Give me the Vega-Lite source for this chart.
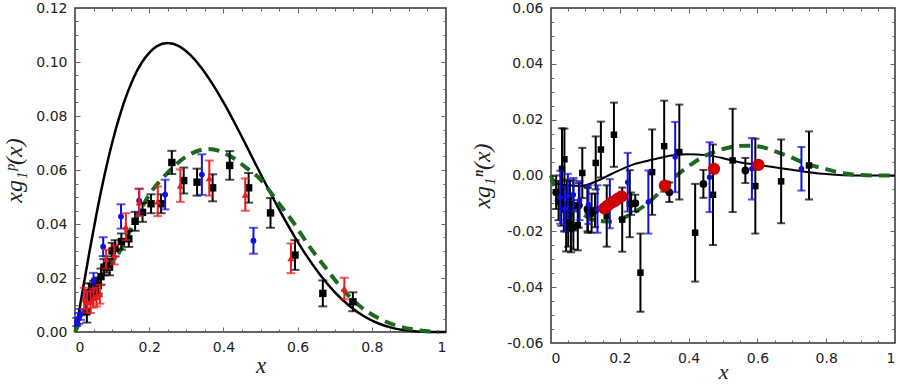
{
  "$schema": "https://vega.github.io/schema/vega-lite/v6.json",
  "padding": {"left": 2, "top": 0, "right": 0, "bottom": 0},
  "spacing": 18,
  "config": {
    "view": {"stroke": "#333", "strokeWidth": 1.5},
    "axis": {"labelFont": "DejaVu Sans", "labelFontSize": 14, "labelColor": "#222", "titleFont": "Liberation Serif", "titleFontStyle": "italic", "titleFontWeight": "normal", "titleFontSize": 24, "titleColor": "#222", "grid": false, "domain": false, "tickColor": "#666", "tickWidth": 1, "minExtent": 0},
    "axisX": {"minExtent": 0},
    "axisY": {"minExtent": 0}
  },
  "datasets": {
    "pA": [{"x":0,"y":0},{"x":0.01,"y":0.0069},{"x":0.02,"y":0.0148},{"x":0.04,"y":0.0305},{"x":0.06,"y":0.0452},{"x":0.08,"y":0.0584},{"x":0.1,"y":0.07},{"x":0.12,"y":0.0799},{"x":0.14,"y":0.0881},{"x":0.16,"y":0.0947},{"x":0.18,"y":0.0998},{"x":0.2,"y":0.1034},{"x":0.22,"y":0.1058},{"x":0.25,"y":0.107},{"x":0.28,"y":0.1059},{"x":0.31,"y":0.1027},{"x":0.34,"y":0.098},{"x":0.37,"y":0.092},{"x":0.4,"y":0.0851},{"x":0.43,"y":0.0775},{"x":0.46,"y":0.0695},{"x":0.5,"y":0.0586},{"x":0.54,"y":0.048},{"x":0.58,"y":0.0381},{"x":0.62,"y":0.0291},{"x":0.66,"y":0.0213},{"x":0.7,"y":0.0148},{"x":0.74,"y":0.00965},{"x":0.78,"y":0.00576},{"x":0.82,"y":0.00305},{"x":0.86,"y":0.00135},{"x":0.9,"y":0.00045},{"x":0.95,"y":0.00004},{"x":1,"y":0}],
    "pB": [{"x":0,"y":0},{"x":0.03,"y":0.009},{"x":0.065,"y":0.0198},{"x":0.12,"y":0.0297},{"x":0.165,"y":0.0421},{"x":0.2,"y":0.0508},{"x":0.245,"y":0.0583},{"x":0.3,"y":0.065},{"x":0.36,"y":0.0678},{"x":0.42,"y":0.065},{"x":0.46,"y":0.061},{"x":0.5,"y":0.0565},{"x":0.515,"y":0.054},{"x":0.55,"y":0.0475},{"x":0.587,"y":0.0409},{"x":0.63,"y":0.032},{"x":0.677,"y":0.0235},{"x":0.72,"y":0.016},{"x":0.766,"y":0.0098},{"x":0.82,"y":0.005},{"x":0.874,"y":0.0021},{"x":0.93,"y":0.0006},{"x":0.98,"y":0}],
    "pSq": [{"x":0.032,"y":0.0075,"lo":0.0035,"hi":0.0115},{"x":0.038,"y":0.0145,"lo":0.011,"hi":0.018},{"x":0.044,"y":0.015,"lo":0.012,"hi":0.018},{"x":0.05,"y":0.016,"lo":0.013,"hi":0.019},{"x":0.056,"y":0.0168,"lo":0.0138,"hi":0.0198},{"x":0.063,"y":0.0172,"lo":0.0142,"hi":0.0202},{"x":0.07,"y":0.0205,"lo":0.0175,"hi":0.0235},{"x":0.078,"y":0.024,"lo":0.021,"hi":0.027},{"x":0.085,"y":0.025,"lo":0.022,"hi":0.028},{"x":0.093,"y":0.024,"lo":0.021,"hi":0.027},{"x":0.1,"y":0.03,"lo":0.027,"hi":0.033},{"x":0.108,"y":0.031,"lo":0.028,"hi":0.034},{"x":0.125,"y":0.0335,"lo":0.0305,"hi":0.0365},{"x":0.145,"y":0.0345,"lo":0.0315,"hi":0.0375},{"x":0.162,"y":0.041,"lo":0.0375,"hi":0.0445},{"x":0.182,"y":0.0443,"lo":0.0408,"hi":0.0478},{"x":0.205,"y":0.0475,"lo":0.044,"hi":0.051},{"x":0.232,"y":0.0475,"lo":0.044,"hi":0.051},{"x":0.261,"y":0.0628,"lo":0.0585,"hi":0.0671},{"x":0.293,"y":0.0561,"lo":0.0513,"hi":0.0609},{"x":0.329,"y":0.0555,"lo":0.0505,"hi":0.0605},{"x":0.371,"y":0.0534,"lo":0.0484,"hi":0.0584},{"x":0.417,"y":0.0617,"lo":0.0564,"hi":0.067},{"x":0.468,"y":0.0534,"lo":0.0479,"hi":0.0589},{"x":0.527,"y":0.0441,"lo":0.0386,"hi":0.0496},{"x":0.593,"y":0.0285,"lo":0.023,"hi":0.034},{"x":0.668,"y":0.0143,"lo":0.0095,"hi":0.0191},{"x":0.749,"y":0.0112,"lo":0.0077,"hi":0.0147}],
    "pCi": [{"x":0.005,"y":0.0037,"lo":0.0022,"hi":0.0052},{"x":0.01,"y":0.005,"lo":0.003,"hi":0.007},{"x":0.015,"y":0.0065,"lo":0.0045,"hi":0.0085},{"x":0.03,"y":0.011,"lo":0.008,"hi":0.014},{"x":0.05,"y":0.0189,"lo":0.0159,"hi":0.0219},{"x":0.076,"y":0.0316,"lo":0.0281,"hi":0.0351},{"x":0.124,"y":0.0428,"lo":0.0383,"hi":0.0473},{"x":0.173,"y":0.0486,"lo":0.0441,"hi":0.0531},{"x":0.243,"y":0.0509,"lo":0.0454,"hi":0.0564},{"x":0.342,"y":0.0583,"lo":0.0508,"hi":0.0658},{"x":0.481,"y":0.0338,"lo":0.029,"hi":0.0386}],
    "pTr": [{"x":0.025,"y":0.0124,"lo":0.0084,"hi":0.0164},{"x":0.033,"y":0.0112,"lo":0.0072,"hi":0.0152},{"x":0.042,"y":0.011,"lo":0.007,"hi":0.015},{"x":0.05,"y":0.0125,"lo":0.009,"hi":0.016},{"x":0.058,"y":0.013,"lo":0.0095,"hi":0.0165},{"x":0.067,"y":0.014,"lo":0.0105,"hi":0.0175},{"x":0.084,"y":0.027,"lo":0.0235,"hi":0.0305},{"x":0.106,"y":0.0285,"lo":0.025,"hi":0.032},{"x":0.137,"y":0.039,"lo":0.034,"hi":0.044},{"x":0.173,"y":0.048,"lo":0.043,"hi":0.053},{"x":0.223,"y":0.0484,"lo":0.0429,"hi":0.0539},{"x":0.284,"y":0.0542,"lo":0.0482,"hi":0.0602},{"x":0.362,"y":0.057,"lo":0.0505,"hi":0.0635},{"x":0.459,"y":0.0509,"lo":0.0449,"hi":0.0569},{"x":0.582,"y":0.0273,"lo":0.0218,"hi":0.0328},{"x":0.726,"y":0.0161,"lo":0.0121,"hi":0.0201}],
    "nA": [{"x":0,"y":0},{"x":0.02,"y":-0.003},{"x":0.05,"y":-0.0035},{"x":0.09,"y":-0.0037},{"x":0.135,"y":-0.0019},{"x":0.18,"y":0.0008},{"x":0.24,"y":0.004},{"x":0.3,"y":0.0058},{"x":0.35,"y":0.0072},{"x":0.4,"y":0.0076},{"x":0.45,"y":0.0073},{"x":0.5,"y":0.0062},{"x":0.545,"y":0.0048},{"x":0.6,"y":0.0038},{"x":0.64,"y":0.0031},{"x":0.7,"y":0.0021},{"x":0.75,"y":0.0012},{"x":0.8,"y":0.0005},{"x":0.85,"y":0.0001},{"x":0.9,"y":0},{"x":1,"y":0}],
    "nB": [{"x":0,"y":0},{"x":0.005,"y":-0.002},{"x":0.03,"y":-0.0085},{"x":0.058,"y":-0.0109},{"x":0.09,"y":-0.0135},{"x":0.116,"y":-0.0156},{"x":0.145,"y":-0.0163},{"x":0.174,"y":-0.0165},{"x":0.21,"y":-0.0152},{"x":0.241,"y":-0.0133},{"x":0.28,"y":-0.01},{"x":0.32,"y":-0.0055},{"x":0.365,"y":0},{"x":0.41,"y":0.0042},{"x":0.45,"y":0.0072},{"x":0.5,"y":0.0095},{"x":0.545,"y":0.0106},{"x":0.58,"y":0.0107},{"x":0.62,"y":0.01},{"x":0.66,"y":0.0083},{"x":0.7,"y":0.0064},{"x":0.73,"y":0.0048},{"x":0.795,"y":0.0024},{"x":0.85,"y":0.0008},{"x":0.89,"y":0.0002},{"x":0.95,"y":0},{"x":1,"y":0}],
    "nSq": [{"x":0.032,"y":0.0024,"lo":-0.0121,"hi":0.0169},{"x":0.039,"y":0.0058,"lo":-0.0052,"hi":0.0168},{"x":0.044,"y":-0.0192,"lo":-0.0272,"hi":-0.0112},{"x":0.05,"y":-0.016,"lo":-0.0255,"hi":-0.0065},{"x":0.058,"y":-0.0175,"lo":-0.0275,"hi":-0.0075},{"x":0.065,"y":-0.0185,"lo":-0.0265,"hi":-0.0105},{"x":0.078,"y":-0.0178,"lo":-0.0268,"hi":-0.0088},{"x":0.091,"y":0.0009,"lo":-0.0081,"hi":0.0099},{"x":0.107,"y":-0.0125,"lo":-0.0205,"hi":-0.0045},{"x":0.13,"y":0.0045,"lo":-0.005,"hi":0.014},{"x":0.145,"y":0.0093,"lo":-0.0007,"hi":0.0193},{"x":0.162,"y":-0.0145,"lo":-0.0255,"hi":-0.0035},{"x":0.183,"y":0.0146,"lo":0.0031,"hi":0.0261},{"x":0.207,"y":-0.0158,"lo":-0.0273,"hi":-0.0043},{"x":0.229,"y":-0.0101,"lo":-0.0221,"hi":0.0019},{"x":0.26,"y":-0.0348,"lo":-0.0488,"hi":-0.0208},{"x":0.294,"y":0.0012,"lo":-0.0141,"hi":0.0165},{"x":0.329,"y":0.0105,"lo":-0.0058,"hi":0.0268},{"x":0.373,"y":0.0084,"lo":-0.0086,"hi":0.0254},{"x":0.419,"y":-0.0205,"lo":-0.038,"hi":-0.003},{"x":0.471,"y":-0.0069,"lo":-0.0249,"hi":0.0111},{"x":0.528,"y":0.0054,"lo":-0.0131,"hi":0.0239},{"x":0.594,"y":-0.0038,"lo":-0.0208,"hi":0.0132},{"x":0.669,"y":-0.0021,"lo":-0.0171,"hi":0.0129},{"x":0.75,"y":0.0036,"lo":-0.0086,"hi":0.0158}],
    "nCi": [{"x":0.015,"y":-0.006,"lo":-0.012,"hi":0},{"x":0.022,"y":-0.009,"lo":-0.016,"hi":-0.002},{"x":0.03,"y":-0.01,"lo":-0.018,"hi":-0.002},{"x":0.038,"y":-0.012,"lo":-0.02,"hi":-0.004},{"x":0.046,"y":-0.0105,"lo":-0.0195,"hi":-0.0015},{"x":0.055,"y":-0.011,"lo":-0.02,"hi":-0.002},{"x":0.065,"y":-0.0107,"lo":-0.0197,"hi":-0.0017},{"x":0.081,"y":-0.0107,"lo":-0.0187,"hi":-0.0027},{"x":0.106,"y":-0.012,"lo":-0.02,"hi":-0.004},{"x":0.118,"y":-0.0135,"lo":-0.0205,"hi":-0.0065},{"x":0.128,"y":-0.0125,"lo":-0.0185,"hi":-0.0065},{"x":0.233,"y":-0.0101,"lo":-0.0141,"hi":-0.0061},{"x":0.245,"y":-0.0099,"lo":-0.0129,"hi":-0.0069},{"x":0.344,"y":-0.006,"lo":-0.0095,"hi":-0.0025},{"x":0.443,"y":-0.003,"lo":-0.008,"hi":0.002},{"x":0.565,"y":0.0018,"lo":-0.0027,"hi":0.0063}],
    "nBl": [{"x":0.027,"y":-0.0078,"lo":-0.0173,"hi":0.0017},{"x":0.04,"y":-0.012,"lo":-0.02,"hi":-0.004},{"x":0.049,"y":-0.0074,"lo":-0.0154,"hi":0.0006},{"x":0.065,"y":-0.0069,"lo":-0.0129,"hi":-0.0009},{"x":0.083,"y":-0.009,"lo":-0.016,"hi":-0.002},{"x":0.109,"y":-0.0104,"lo":-0.0174,"hi":-0.0034},{"x":0.135,"y":-0.012,"lo":-0.0205,"hi":-0.0035},{"x":0.171,"y":-0.0101,"lo":-0.0189,"hi":-0.0013},{"x":0.223,"y":-0.0024,"lo":-0.0129,"hi":0.0081},{"x":0.283,"y":-0.0095,"lo":-0.0208,"hi":0.0018},{"x":0.361,"y":0.0066,"lo":-0.006,"hi":0.0192},{"x":0.461,"y":-0.0006,"lo":-0.0131,"hi":0.0119},{"x":0.584,"y":0.0024,"lo":-0.0086,"hi":0.0134},{"x":0.728,"y":0.0024,"lo":-0.0054,"hi":0.0102}],
    "nRed": [{"x":0.155,"y":-0.0118},{"x":0.165,"y":-0.0108},{"x":0.175,"y":-0.0098},{"x":0.185,"y":-0.0092},{"x":0.195,"y":-0.0083},{"x":0.205,"y":-0.0075},{"x":0.331,"y":-0.0036},{"x":0.474,"y":0.0024},{"x":0.603,"y":0.0038}]
  },
  "hconcat": [
    {
      "width": 371,
      "height": 324,
      "resolve": {"axis": {"x": "independent", "y": "independent"}},
      "layer": [
        {"data": {"name": "pA"}, "mark": {"type": "line", "color": "#000", "strokeWidth": 2.5, "interpolate": "monotone"},
         "encoding": {
           "x": {"field": "x", "type": "quantitative", "scale": {"domain": [0, 1], "nice": false}, "axis": {"orient": "bottom", "values": [0, 0.2, 0.4, 0.6, 0.8, 1], "format": "~g", "ticks": false, "labelPadding": 8, "title": "x", "titlePadding": 0, "titleFontSize": 23}},
           "y": {"field": "y", "type": "quantitative", "scale": {"domain": [0, 0.12], "nice": false}, "axis": {"orient": "left", "values": [0, 0.02, 0.04, 0.06, 0.08, 0.1, 0.12], "format": ".2f", "ticks": false, "labelPadding": 8, "title": "xg₁ᵖ(x)", "titlePadding": 9}}}},
        {"data": {"name": "pB"}, "mark": {"type": "line", "color": "#1c6b1c", "strokeWidth": 4, "strokeDash": [11, 7], "interpolate": "monotone"},
         "encoding": {
           "x": {"field": "x", "type": "quantitative", "scale": {"domain": [0, 1], "nice": false}, "axis": {"orient": "bottom", "values": [0.2, 0.4, 0.6, 0.8], "labels": false, "tickSize": -5, "title": null, "minExtent": 0}},
           "y": {"field": "y", "type": "quantitative", "scale": {"domain": [0, 0.12], "nice": false}, "axis": {"orient": "left", "values": [0.02, 0.04, 0.06, 0.08, 0.1], "labels": false, "tickSize": -5, "title": null, "minExtent": 0}}}},
        {"data": {"name": "pSq"}, "mark": {"type": "rule", "color": "#000", "strokeWidth": 2},
         "encoding": {
           "x": {"field": "x", "type": "quantitative", "scale": {"domain": [0, 1], "nice": false}, "axis": {"orient": "bottom", "values": [0.05, 0.1, 0.15, 0.25, 0.3, 0.35, 0.45, 0.5, 0.55, 0.65, 0.7, 0.75, 0.85, 0.9, 0.95], "labels": false, "tickSize": -3, "title": null, "minExtent": 0}},
           "y": {"field": "lo", "type": "quantitative", "scale": {"domain": [0, 0.12], "nice": false}, "axis": {"orient": "left", "values": [0.005, 0.01, 0.015, 0.025, 0.03, 0.035, 0.045, 0.05, 0.055, 0.065, 0.07, 0.075, 0.085, 0.09, 0.095, 0.105, 0.11, 0.115], "labels": false, "tickSize": -3, "title": null, "minExtent": 0}},
           "y2": {"field": "hi"}}},
        {"data": {"name": "pSq"}, "mark": {"type": "tick", "orient": "horizontal", "color": "#000", "size": 9, "thickness": 2},
         "encoding": {
           "x": {"field": "x", "type": "quantitative", "scale": {"domain": [0, 1], "nice": false}, "axis": {"orient": "top", "values": [0.2, 0.4, 0.6, 0.8], "labels": false, "tickSize": -5, "title": null, "minExtent": 0}},
           "y": {"field": "lo", "type": "quantitative", "scale": {"domain": [0, 0.12], "nice": false}, "axis": {"orient": "right", "values": [0.02, 0.04, 0.06, 0.08, 0.1], "labels": false, "tickSize": -5, "title": null, "minExtent": 0}}}},
        {"data": {"name": "pSq"}, "mark": {"type": "tick", "orient": "horizontal", "color": "#000", "size": 9, "thickness": 2},
         "encoding": {
           "x": {"field": "x", "type": "quantitative", "scale": {"domain": [0, 1], "nice": false}, "axis": {"orient": "top", "values": [0.05, 0.1, 0.15, 0.25, 0.3, 0.35, 0.45, 0.5, 0.55, 0.65, 0.7, 0.75, 0.85, 0.9, 0.95], "labels": false, "tickSize": -3, "title": null, "minExtent": 0}},
           "y": {"field": "hi", "type": "quantitative", "scale": {"domain": [0, 0.12], "nice": false}, "axis": {"orient": "right", "values": [0.005, 0.01, 0.015, 0.025, 0.03, 0.035, 0.045, 0.05, 0.055, 0.065, 0.07, 0.075, 0.085, 0.09, 0.095, 0.105, 0.11, 0.115], "labels": false, "tickSize": -3, "title": null, "minExtent": 0}}}},
        {"data": {"name": "pSq"}, "mark": {"type": "point", "shape": "square", "filled": true, "color": "#000", "size": 55, "opacity": 1},
         "encoding": {
           "x": {"field": "x", "type": "quantitative", "scale": {"domain": [0, 1], "nice": false}, "axis": null},
           "y": {"field": "y", "type": "quantitative", "scale": {"domain": [0, 0.12], "nice": false}, "axis": null}}},
        {"data": {"name": "pCi"}, "mark": {"type": "rule", "color": "#1010dd", "strokeWidth": 2},
         "encoding": {
           "x": {"field": "x", "type": "quantitative", "scale": {"domain": [0, 1], "nice": false}, "axis": null},
           "y": {"field": "lo", "type": "quantitative", "scale": {"domain": [0, 0.12], "nice": false}, "axis": null},
           "y2": {"field": "hi"}}},
        {"data": {"name": "pCi"}, "mark": {"type": "tick", "orient": "horizontal", "color": "#1010dd", "size": 9, "thickness": 2},
         "encoding": {
           "x": {"field": "x", "type": "quantitative", "scale": {"domain": [0, 1], "nice": false}, "axis": null},
           "y": {"field": "lo", "type": "quantitative", "scale": {"domain": [0, 0.12], "nice": false}, "axis": null}}},
        {"data": {"name": "pCi"}, "mark": {"type": "tick", "orient": "horizontal", "color": "#1010dd", "size": 9, "thickness": 2},
         "encoding": {
           "x": {"field": "x", "type": "quantitative", "scale": {"domain": [0, 1], "nice": false}, "axis": null},
           "y": {"field": "hi", "type": "quantitative", "scale": {"domain": [0, 0.12], "nice": false}, "axis": null}}},
        {"data": {"name": "pCi"}, "mark": {"type": "point", "shape": "circle", "filled": true, "color": "#1010dd", "size": 34, "opacity": 1},
         "encoding": {
           "x": {"field": "x", "type": "quantitative", "scale": {"domain": [0, 1], "nice": false}, "axis": null},
           "y": {"field": "y", "type": "quantitative", "scale": {"domain": [0, 0.12], "nice": false}, "axis": null}}},
        {"data": {"name": "pTr"}, "mark": {"type": "rule", "color": "#ee1a1a", "strokeWidth": 2},
         "encoding": {
           "x": {"field": "x", "type": "quantitative", "scale": {"domain": [0, 1], "nice": false}, "axis": null},
           "y": {"field": "lo", "type": "quantitative", "scale": {"domain": [0, 0.12], "nice": false}, "axis": null},
           "y2": {"field": "hi"}}},
        {"data": {"name": "pTr"}, "mark": {"type": "tick", "orient": "horizontal", "color": "#ee1a1a", "size": 9, "thickness": 2},
         "encoding": {
           "x": {"field": "x", "type": "quantitative", "scale": {"domain": [0, 1], "nice": false}, "axis": null},
           "y": {"field": "lo", "type": "quantitative", "scale": {"domain": [0, 0.12], "nice": false}, "axis": null}}},
        {"data": {"name": "pTr"}, "mark": {"type": "tick", "orient": "horizontal", "color": "#ee1a1a", "size": 9, "thickness": 2},
         "encoding": {
           "x": {"field": "x", "type": "quantitative", "scale": {"domain": [0, 1], "nice": false}, "axis": null},
           "y": {"field": "hi", "type": "quantitative", "scale": {"domain": [0, 0.12], "nice": false}, "axis": null}}},
        {"data": {"name": "pTr"}, "mark": {"type": "point", "shape": "triangle-up", "filled": true, "color": "#ee1a1a", "size": 50, "opacity": 1},
         "encoding": {
           "x": {"field": "x", "type": "quantitative", "scale": {"domain": [0, 1], "nice": false}, "axis": null},
           "y": {"field": "y", "type": "quantitative", "scale": {"domain": [0, 0.12], "nice": false}, "axis": null}}}
      ]
    },
    {
      "width": 344,
      "height": 335,
      "resolve": {"axis": {"x": "independent", "y": "independent"}},
      "layer": [
        {"data": {"name": "nA"}, "mark": {"type": "line", "color": "#000", "strokeWidth": 2, "interpolate": "monotone"},
         "encoding": {
           "x": {"field": "x", "type": "quantitative", "scale": {"domain": [0, 1], "nice": false}, "axis": {"orient": "bottom", "values": [0, 0.2, 0.4, 0.6, 0.8, 1], "format": "~g", "ticks": false, "labelPadding": 8, "title": "x", "titlePadding": -4, "titleFontSize": 22}},
           "y": {"field": "y", "type": "quantitative", "scale": {"domain": [-0.06, 0.06], "nice": false}, "axis": {"orient": "left", "values": [-0.06, -0.04, -0.02, 0, 0.02, 0.04, 0.06], "labelExpr": "replace(format(datum.value, '.2f'), '−', '-')", "ticks": false, "labelPadding": 8, "title": "xg₁ⁿ(x)", "titlePadding": 12}}}},
        {"data": {"name": "nB"}, "mark": {"type": "line", "color": "#1c6b1c", "strokeWidth": 4, "strokeDash": [11, 7], "interpolate": "monotone"},
         "encoding": {
           "x": {"field": "x", "type": "quantitative", "scale": {"domain": [0, 1], "nice": false}, "axis": {"orient": "bottom", "values": [0.2, 0.4, 0.6, 0.8], "labels": false, "tickSize": -5, "title": null, "minExtent": 0}},
           "y": {"field": "y", "type": "quantitative", "scale": {"domain": [-0.06, 0.06], "nice": false}, "axis": {"orient": "left", "values": [-0.04, -0.02, 0, 0.02, 0.04], "labels": false, "tickSize": -5, "title": null, "minExtent": 0}}}},
        {"data": {"name": "nSq"}, "mark": {"type": "rule", "color": "#000", "strokeWidth": 2},
         "encoding": {
           "x": {"field": "x", "type": "quantitative", "scale": {"domain": [0, 1], "nice": false}, "axis": {"orient": "bottom", "values": [0.05, 0.1, 0.15, 0.25, 0.3, 0.35, 0.45, 0.5, 0.55, 0.65, 0.7, 0.75, 0.85, 0.9, 0.95], "labels": false, "tickSize": -3, "title": null, "minExtent": 0}},
           "y": {"field": "lo", "type": "quantitative", "scale": {"domain": [-0.06, 0.06], "nice": false}, "axis": {"orient": "left", "values": [-0.055, -0.05, -0.045, -0.035, -0.03, -0.025, -0.015, -0.01, -0.005, 0.005, 0.01, 0.015, 0.025, 0.03, 0.035, 0.045, 0.05, 0.055], "labels": false, "tickSize": -3, "title": null, "minExtent": 0}},
           "y2": {"field": "hi"}}},
        {"data": {"name": "nSq"}, "mark": {"type": "tick", "orient": "horizontal", "color": "#000", "size": 8, "thickness": 2},
         "encoding": {
           "x": {"field": "x", "type": "quantitative", "scale": {"domain": [0, 1], "nice": false}, "axis": {"orient": "top", "values": [0.2, 0.4, 0.6, 0.8], "labels": false, "tickSize": -5, "title": null, "minExtent": 0}},
           "y": {"field": "lo", "type": "quantitative", "scale": {"domain": [-0.06, 0.06], "nice": false}, "axis": {"orient": "right", "values": [-0.04, -0.02, 0, 0.02, 0.04], "labels": false, "tickSize": -5, "title": null, "minExtent": 0}}}},
        {"data": {"name": "nSq"}, "mark": {"type": "tick", "orient": "horizontal", "color": "#000", "size": 8, "thickness": 2},
         "encoding": {
           "x": {"field": "x", "type": "quantitative", "scale": {"domain": [0, 1], "nice": false}, "axis": {"orient": "top", "values": [0.05, 0.1, 0.15, 0.25, 0.3, 0.35, 0.45, 0.5, 0.55, 0.65, 0.7, 0.75, 0.85, 0.9, 0.95], "labels": false, "tickSize": -3, "title": null, "minExtent": 0}},
           "y": {"field": "hi", "type": "quantitative", "scale": {"domain": [-0.06, 0.06], "nice": false}, "axis": {"orient": "right", "values": [-0.055, -0.05, -0.045, -0.035, -0.03, -0.025, -0.015, -0.01, -0.005, 0.005, 0.01, 0.015, 0.025, 0.03, 0.035, 0.045, 0.05, 0.055], "labels": false, "tickSize": -3, "title": null, "minExtent": 0}}}},
        {"data": {"name": "nSq"}, "mark": {"type": "point", "shape": "square", "filled": true, "color": "#000", "size": 42, "opacity": 1},
         "encoding": {
           "x": {"field": "x", "type": "quantitative", "scale": {"domain": [0, 1], "nice": false}, "axis": null},
           "y": {"field": "y", "type": "quantitative", "scale": {"domain": [-0.06, 0.06], "nice": false}, "axis": null}}},
        {"data": {"name": "nCi"}, "mark": {"type": "rule", "color": "#000", "strokeWidth": 2},
         "encoding": {
           "x": {"field": "x", "type": "quantitative", "scale": {"domain": [0, 1], "nice": false}, "axis": null},
           "y": {"field": "lo", "type": "quantitative", "scale": {"domain": [-0.06, 0.06], "nice": false}, "axis": null},
           "y2": {"field": "hi"}}},
        {"data": {"name": "nCi"}, "mark": {"type": "tick", "orient": "horizontal", "color": "#000", "size": 8, "thickness": 2},
         "encoding": {
           "x": {"field": "x", "type": "quantitative", "scale": {"domain": [0, 1], "nice": false}, "axis": null},
           "y": {"field": "lo", "type": "quantitative", "scale": {"domain": [-0.06, 0.06], "nice": false}, "axis": null}}},
        {"data": {"name": "nCi"}, "mark": {"type": "tick", "orient": "horizontal", "color": "#000", "size": 8, "thickness": 2},
         "encoding": {
           "x": {"field": "x", "type": "quantitative", "scale": {"domain": [0, 1], "nice": false}, "axis": null},
           "y": {"field": "hi", "type": "quantitative", "scale": {"domain": [-0.06, 0.06], "nice": false}, "axis": null}}},
        {"data": {"name": "nCi"}, "mark": {"type": "point", "shape": "circle", "filled": true, "color": "#000", "size": 60, "opacity": 1},
         "encoding": {
           "x": {"field": "x", "type": "quantitative", "scale": {"domain": [0, 1], "nice": false}, "axis": null},
           "y": {"field": "y", "type": "quantitative", "scale": {"domain": [-0.06, 0.06], "nice": false}, "axis": null}}},
        {"data": {"name": "nBl"}, "mark": {"type": "rule", "color": "#1010dd", "strokeWidth": 2},
         "encoding": {
           "x": {"field": "x", "type": "quantitative", "scale": {"domain": [0, 1], "nice": false}, "axis": null},
           "y": {"field": "lo", "type": "quantitative", "scale": {"domain": [-0.06, 0.06], "nice": false}, "axis": null},
           "y2": {"field": "hi"}}},
        {"data": {"name": "nBl"}, "mark": {"type": "tick", "orient": "horizontal", "color": "#1010dd", "size": 8, "thickness": 2},
         "encoding": {
           "x": {"field": "x", "type": "quantitative", "scale": {"domain": [0, 1], "nice": false}, "axis": null},
           "y": {"field": "lo", "type": "quantitative", "scale": {"domain": [-0.06, 0.06], "nice": false}, "axis": null}}},
        {"data": {"name": "nBl"}, "mark": {"type": "tick", "orient": "horizontal", "color": "#1010dd", "size": 8, "thickness": 2},
         "encoding": {
           "x": {"field": "x", "type": "quantitative", "scale": {"domain": [0, 1], "nice": false}, "axis": null},
           "y": {"field": "hi", "type": "quantitative", "scale": {"domain": [-0.06, 0.06], "nice": false}, "axis": null}}},
        {"data": {"name": "nBl"}, "mark": {"type": "point", "shape": "circle", "filled": true, "color": "#1010dd", "size": 30, "opacity": 1},
         "encoding": {
           "x": {"field": "x", "type": "quantitative", "scale": {"domain": [0, 1], "nice": false}, "axis": null},
           "y": {"field": "y", "type": "quantitative", "scale": {"domain": [-0.06, 0.06], "nice": false}, "axis": null}}},
        {"data": {"name": "nRed"}, "mark": {"type": "point", "shape": "circle", "filled": true, "color": "#cc0000", "size": 150, "opacity": 1},
         "encoding": {
           "x": {"field": "x", "type": "quantitative", "scale": {"domain": [0, 1], "nice": false}, "axis": null},
           "y": {"field": "y", "type": "quantitative", "scale": {"domain": [-0.06, 0.06], "nice": false}, "axis": null}}}
      ]
    }
  ]
}
